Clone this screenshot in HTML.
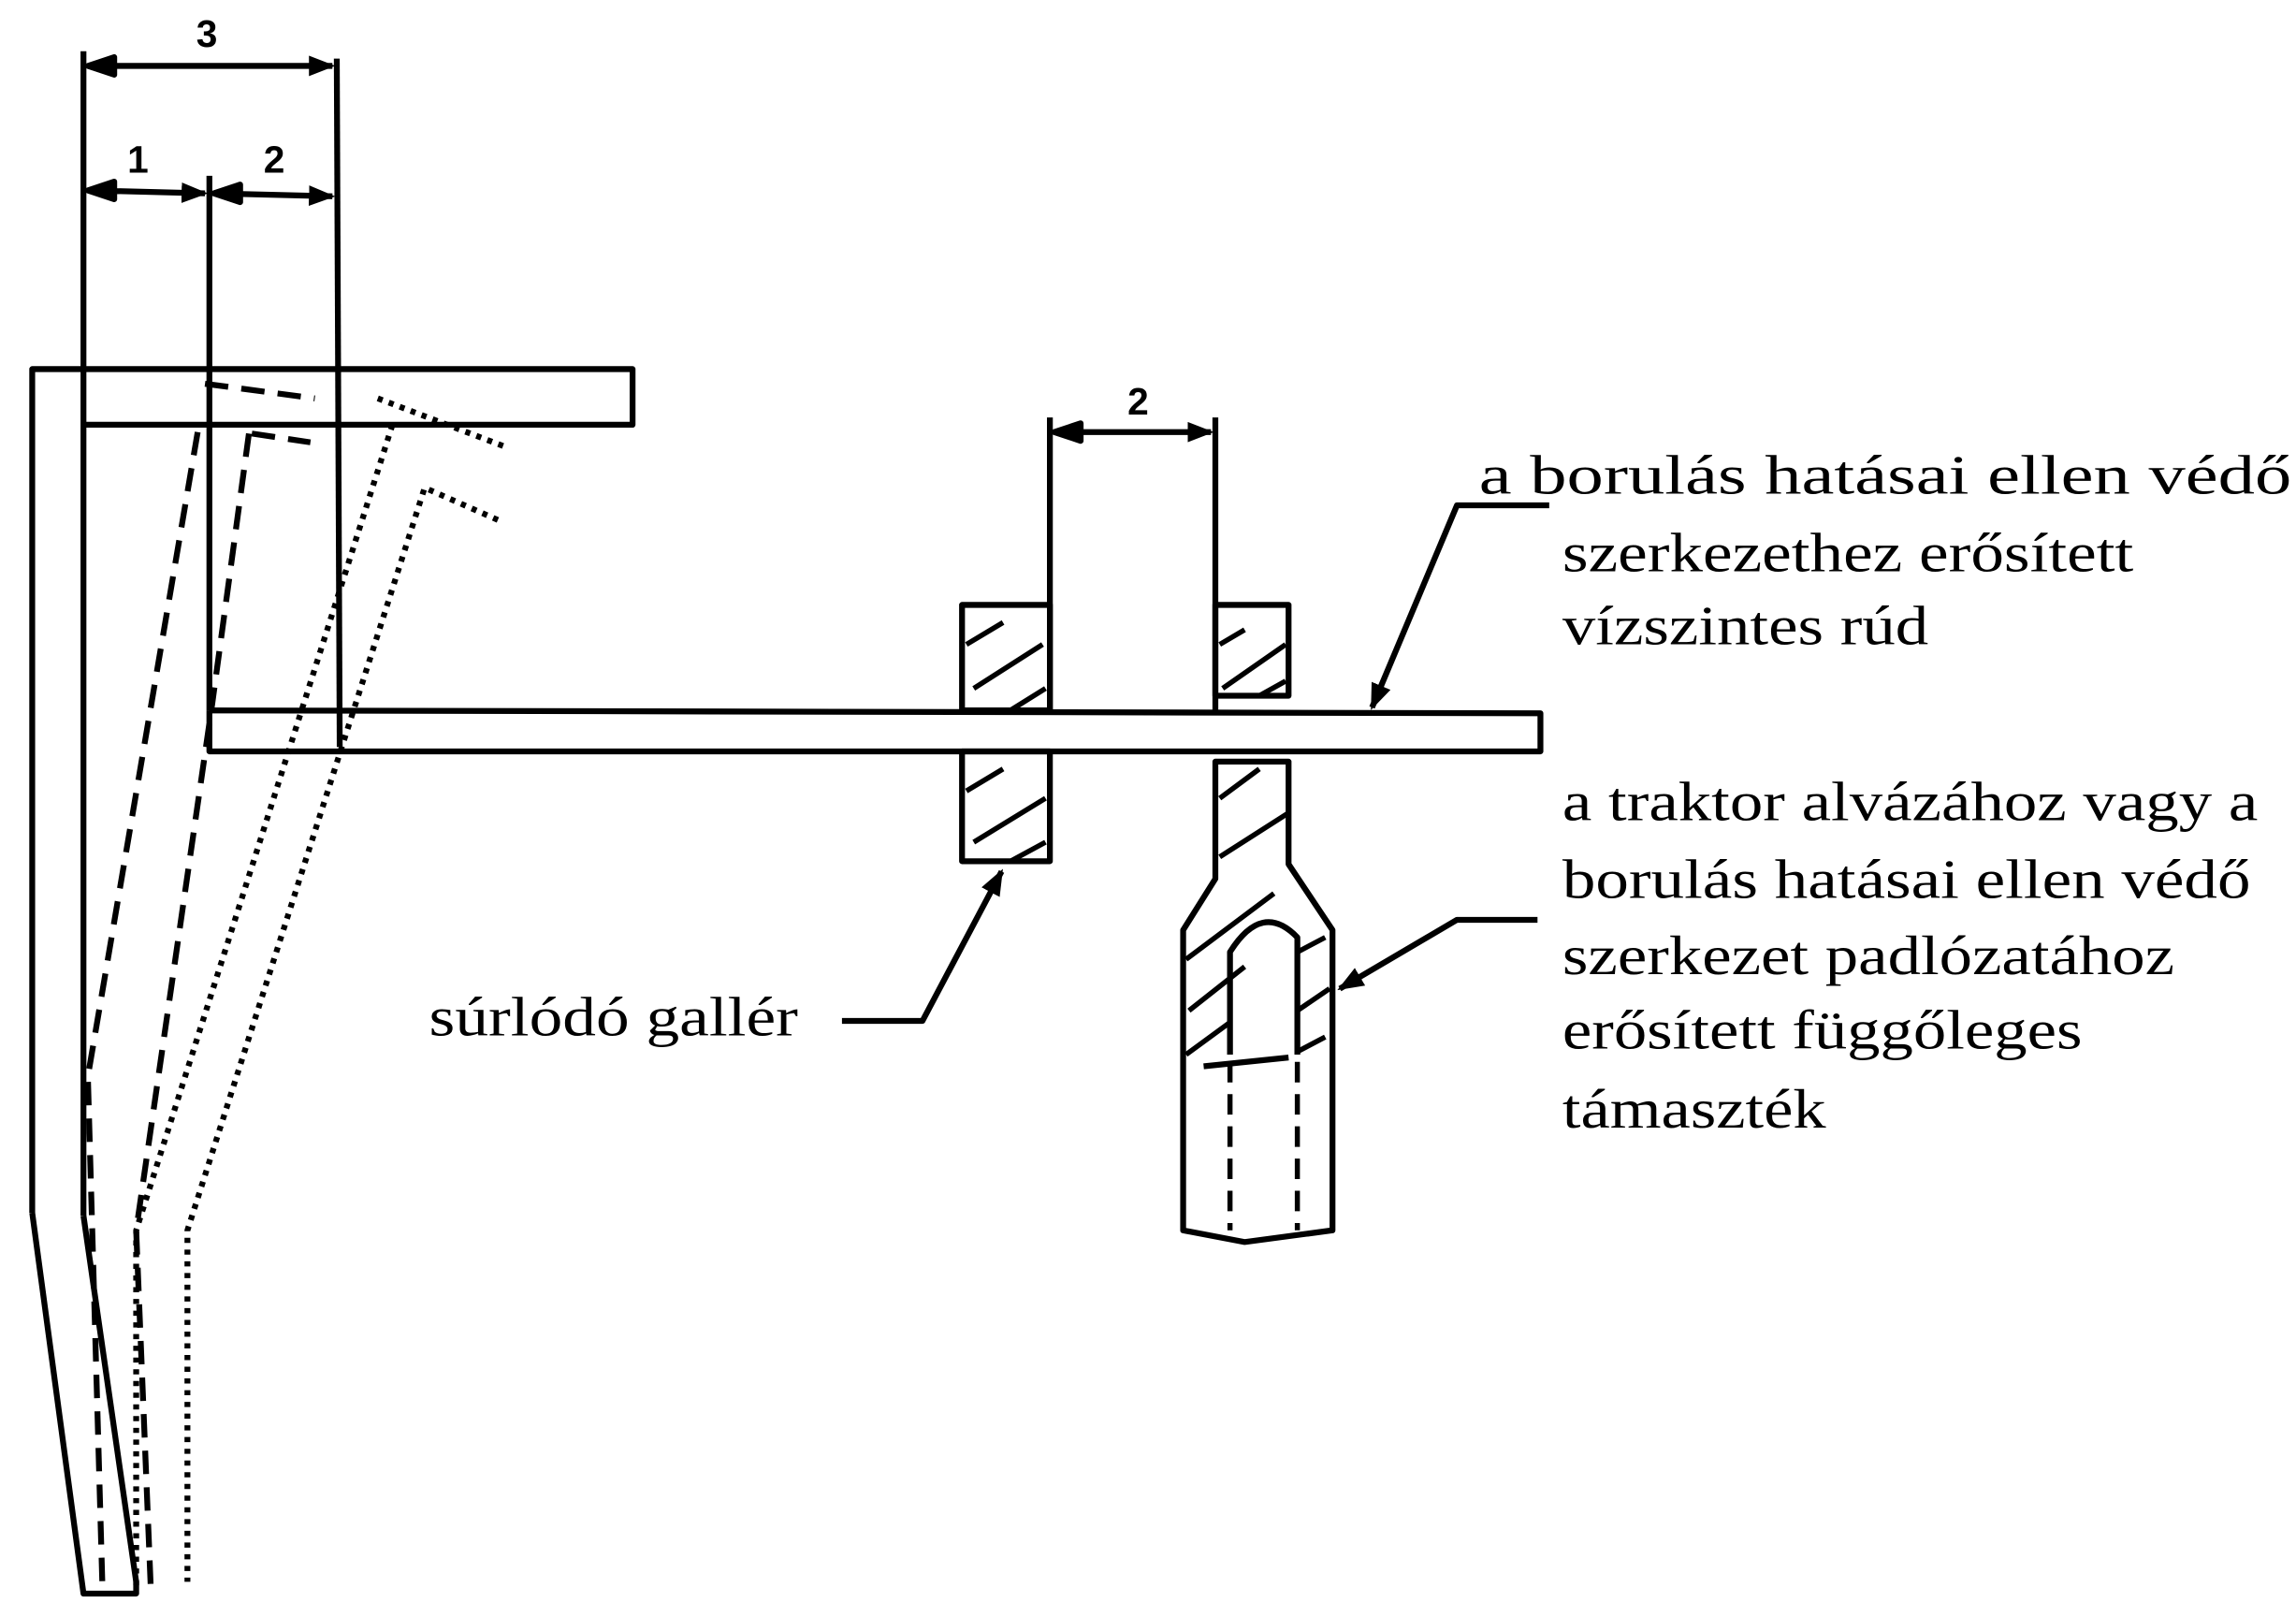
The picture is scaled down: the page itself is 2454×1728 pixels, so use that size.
<!DOCTYPE html>
<html><head><meta charset="utf-8"><style>
html,body{margin:0;padding:0;background:#fff;}
svg{display:block;}
text{font-family:"Liberation Serif",serif;fill:#000;}
</style></head><body>
<svg width="2454" height="1728" viewBox="0 0 1568 1104" preserveAspectRatio="none" xmlns="http://www.w3.org/2000/svg">
<defs>
<marker id="ab" markerWidth="18" markerHeight="14" refX="16" refY="7" orient="auto" markerUnits="userSpaceOnUse">
<path d="M0,0 L18,7 L0,14 Z" fill="#000"/></marker>
</defs>
<g stroke="#000" stroke-width="4" fill="none" stroke-linejoin="round">
<line x1="57" y1="35" x2="57" y2="830"/>
<line x1="143" y1="120" x2="143" y2="485"/>
<line x1="230" y1="40" x2="232" y2="510"/>
<line x1="60" y1="45" x2="227" y2="45" marker-end="url(#ab)"/>
<path d="M78,39 L60,45 L78,51 Z" fill="#000"/>
<line x1="60" y1="130" x2="140" y2="132" marker-end="url(#ab)"/>
<path d="M78,124 L60,130 L78,136 Z" fill="#000"/>
<line x1="146" y1="132" x2="227" y2="134" marker-end="url(#ab)"/>
<path d="M164,126 L146,132 L164,138 Z" fill="#000"/>
<path d="M22,828 L22,252 L432,252 L432,290 L57,290"/>
<path d="M22,828 L57,1088 L93,1088 L93,1080 L57,830"/>
<path d="M143,485 L1052,487 L1052,513 L143,513 L143,485"/>
<g stroke-dasharray="16,9">
<path d="M140,262 L215,272"/>
<path d="M172,296 L212,302"/>
<path d="M135,295 L60,735 L70,1085"/>
<path d="M170,296 L145,480 L93,840 L103,1085"/>
</g>
<g stroke-dasharray="3.5,4.5" stroke-width="4">
<path d="M258,272 L345,305"/>
<path d="M268,290 L93,840 L93,1085"/>
<path d="M340,355 L290,333 L128,840 L128,1080"/>
</g>
<line x1="717" y1="285" x2="717" y2="485"/>
<line x1="830" y1="285" x2="830" y2="485"/>
<line x1="720" y1="295" x2="827" y2="295" marker-end="url(#ab)"/>
<path d="M738,289 L720,295 L738,301 Z" fill="#000"/>
<rect x="657" y="413" width="60" height="72"/>
<rect x="657" y="513" width="60" height="75"/>
<rect x="830" y="413" width="50" height="62"/>
<path d="M830,520 L880,520 L880,590 L910,635 L910,840 L850,848 L808,840 L808,635 L830,600 Z"/>
<path d="M840,720 L840,650 Q862,615 886,640 L886,720"/>
<path d="M822,728 L880,722"/>
<g stroke-dasharray="14,8" stroke-width="3.5"><path d="M840,725 L840,840"/><path d="M886,725 L886,840"/></g>
<g stroke-width="3.5">
<path d="M660,440 L685,425 M665,470 L712,440 M690,485 L714,470"/>
<path d="M660,540 L685,525 M665,575 L714,545 M690,588 L714,575"/>
<path d="M833,440 L850,430 M835,470 L878,440 M860,475 L878,465"/>
<path d="M833,545 L860,525 M833,585 L880,555"/>
<path d="M810,655 L870,610 M812,690 L850,660 M810,720 L840,698 M886,650 L905,640 M886,690 L908,675 M886,718 L905,708"/>
</g>
<path d="M575,697 L630,697 L684,595" marker-end="url(#ab)"/>
<path d="M1058,345 L995,345 L937,483" marker-end="url(#ab)"/>
<path d="M1050,628 L995,628 L915,675" marker-end="url(#ab)"/>
</g>
<g font-weight="bold" font-size="26">
<text x="134" y="32" style="font-family:'Liberation Sans',sans-serif">3</text>
<text x="87" y="118" style="font-family:'Liberation Sans',sans-serif">1</text>
<text x="180" y="118" style="font-family:'Liberation Sans',sans-serif">2</text>
<text x="770" y="283" style="font-family:'Liberation Sans',sans-serif">2</text>
</g>
<g font-size="38">
<text x="1010" y="337" textLength="555" lengthAdjust="spacingAndGlyphs">a borulás hatásai ellen védő</text>
<text x="1067" y="390" textLength="390" lengthAdjust="spacingAndGlyphs">szerkezethez erősített</text>
<text x="1067" y="440" textLength="250" lengthAdjust="spacingAndGlyphs">vízszintes rúd</text>
<text x="1067" y="560" textLength="475" lengthAdjust="spacingAndGlyphs">a traktor alvázához vagy a</text>
<text x="1067" y="613" textLength="470" lengthAdjust="spacingAndGlyphs">borulás hatásai ellen védő</text>
<text x="1067" y="665" textLength="418" lengthAdjust="spacingAndGlyphs">szerkezet padlózatához</text>
<text x="1067" y="716" textLength="355" lengthAdjust="spacingAndGlyphs">erősített függőleges</text>
<text x="1067" y="770" textLength="180" lengthAdjust="spacingAndGlyphs">támaszték</text>
<text x="293" y="707" textLength="252" lengthAdjust="spacingAndGlyphs">súrlódó gallér</text>
</g>
</svg>
</body></html>
